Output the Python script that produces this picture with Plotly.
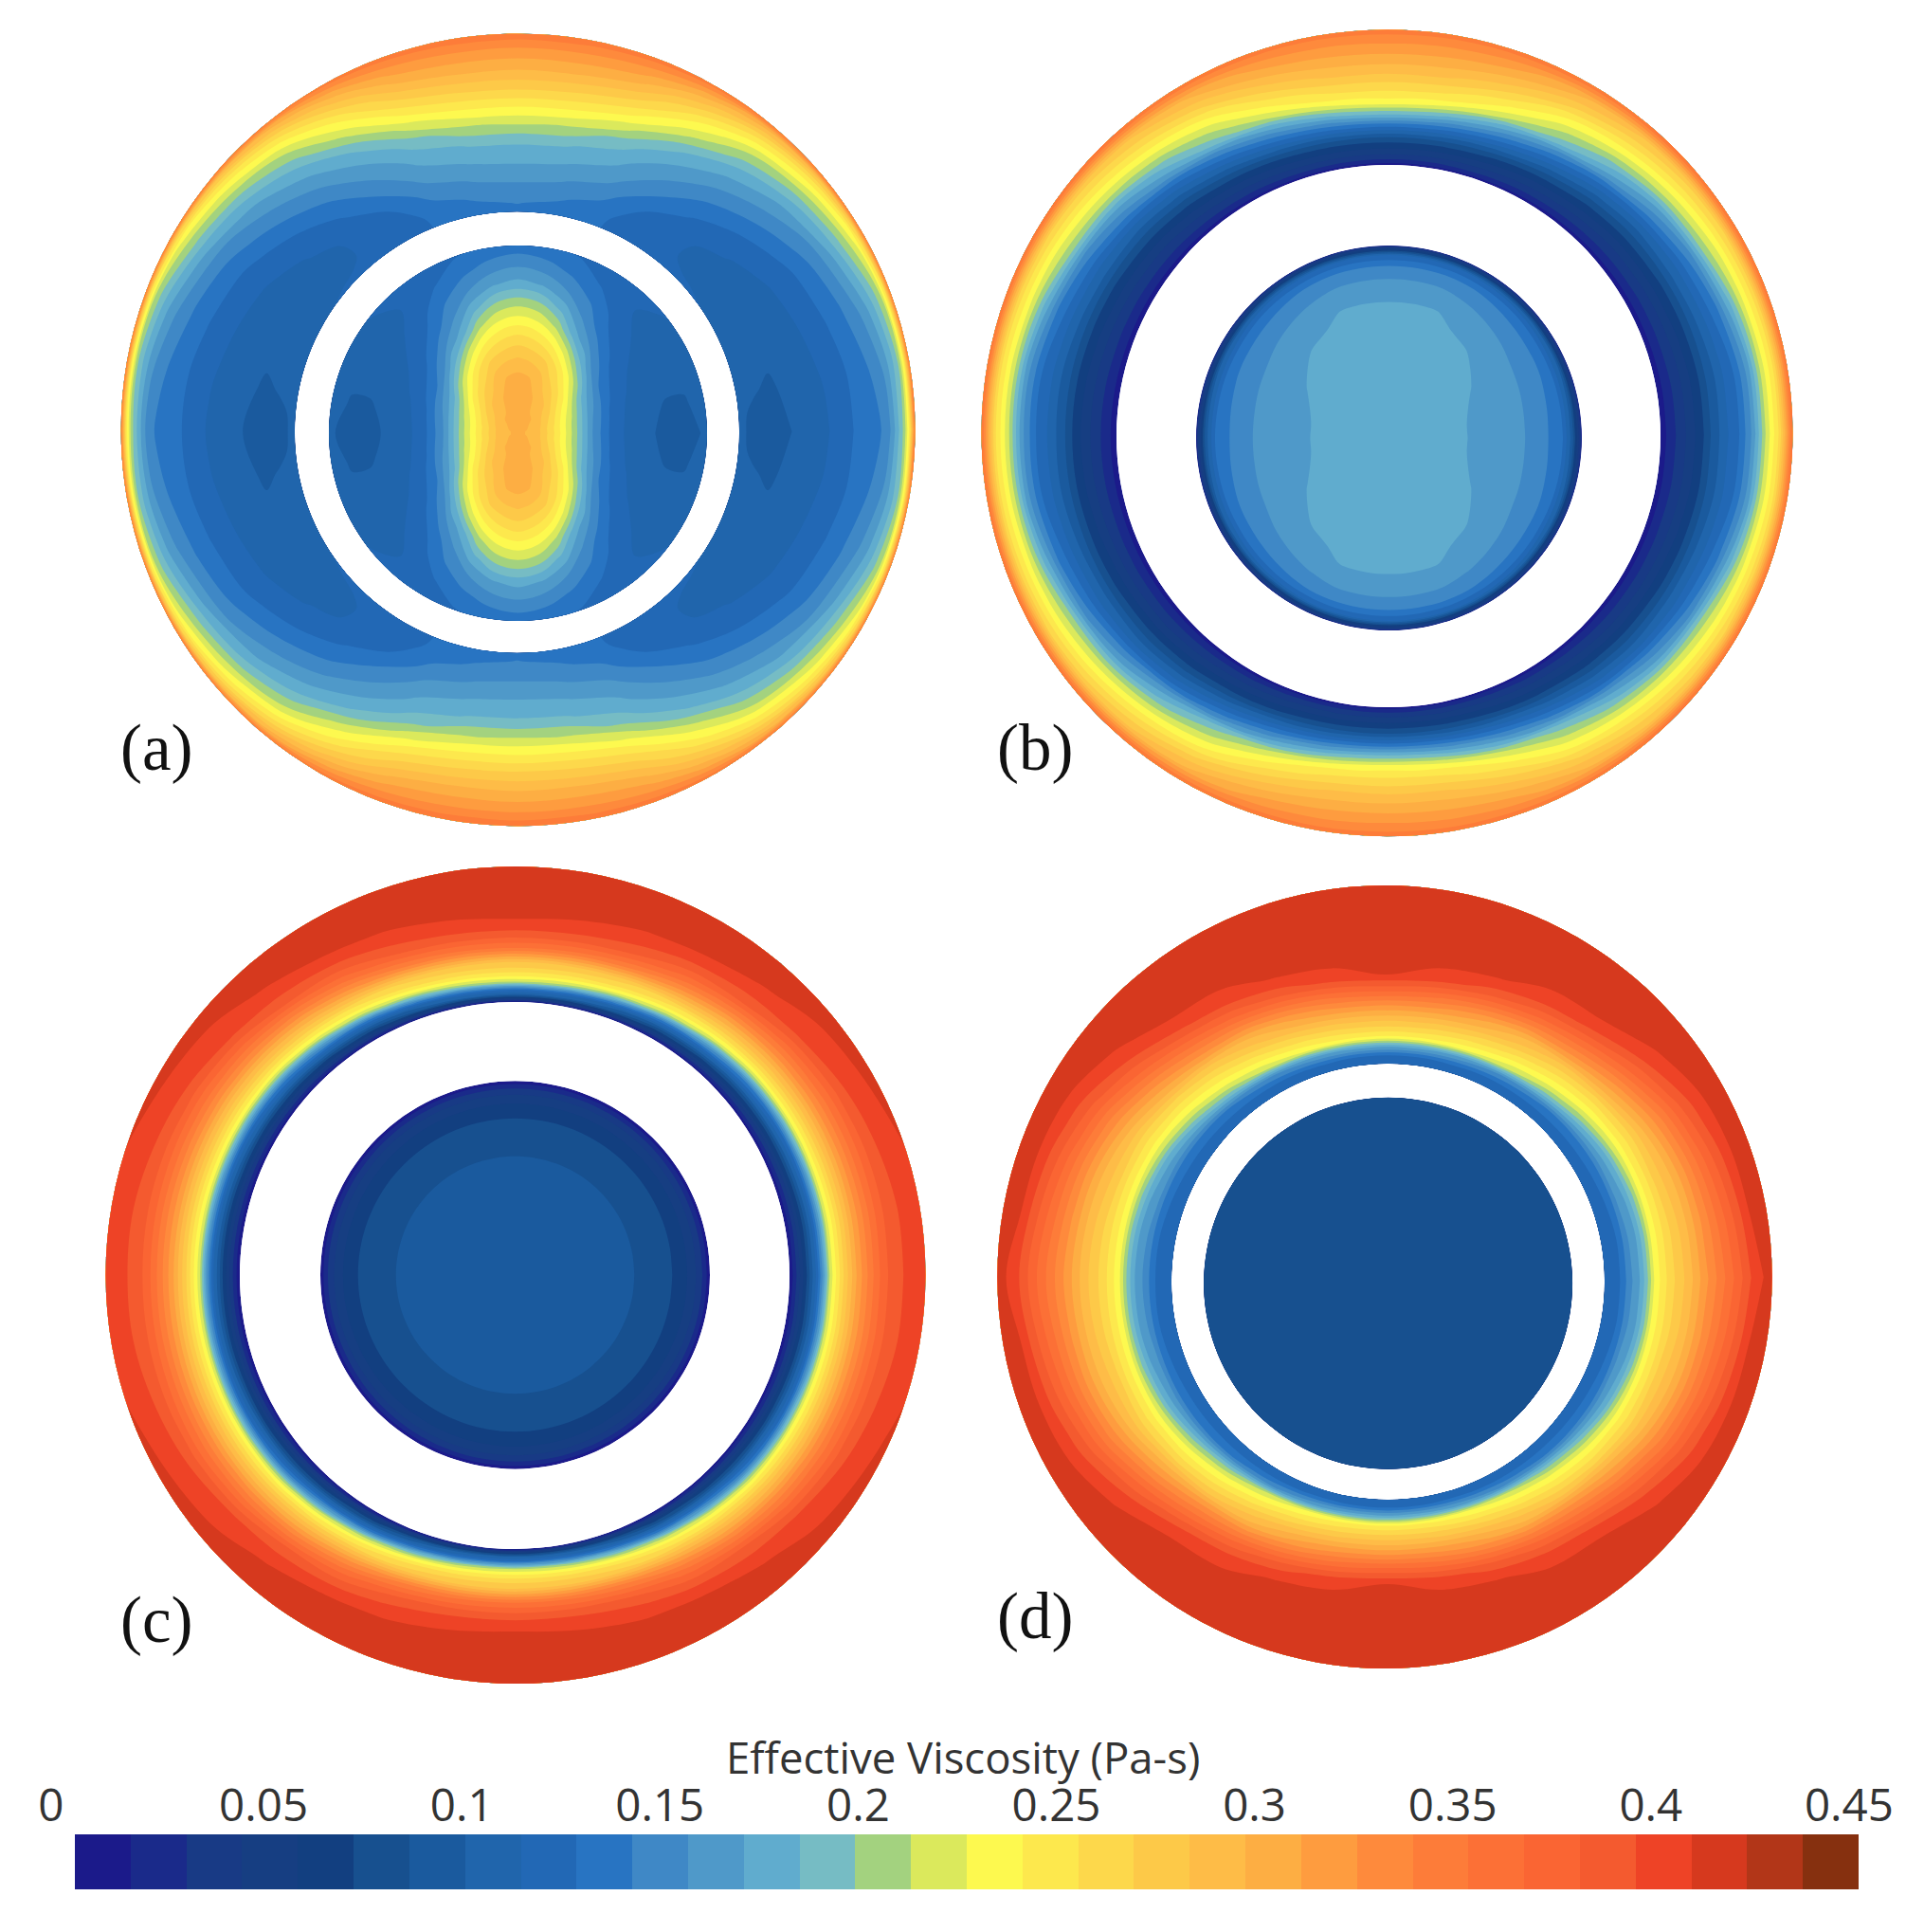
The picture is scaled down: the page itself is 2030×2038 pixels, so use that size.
import numpy as np
import plotly.graph_objects as go

# ---------- data ----------
BAR_COLORS = ["#1b1a8a", "#1a2a8a", "#183a85", "#163e82", "#123f80", "#17508f", "#1a5a9e", "#2065ac",
              "#2268b5", "#2874c2", "#3f88c6", "#4f99c9", "#60acce", "#76bcc4", "#a3d27f", "#dbe95c",
              "#fdf94f", "#fde84d", "#fdd84b", "#fdc948", "#febc47", "#fdae43", "#fe9c3f", "#fe8a3c",
              "#fd7c39", "#fc7036", "#fa6533", "#f45a2f", "#ee4326", "#d6391e", "#b23618", "#86300f"]
Z_MAX = 0.45
TICK_VALUES = [-0.0036, 0.05, 0.10, 0.15, 0.20, 0.25, 0.30, 0.35, 0.40, 0.45]
TICK_LABELS = ["0", "0.05", "0.1", "0.15", "0.2", "0.25", "0.3", "0.35", "0.4", "0.45"]
COLORBAR_TITLE = "Effective Viscosity (Pa-s)"
PANEL_NAMES = ["(a)", "(b)", "(c)", "(d)"]
ANGLES = [0, 10, 20, 30, 40, 50, 60, 70, 80, 90]

# Values are given in colour-band units of the legend (0..32); one band = 0.45/32 Pa-s.
# Each row is one angle of ANGLES, each column one radial node.
A_OUT_T = [0, .05, .1, .2, .3, .4, .5, .6, .7, .8, .85, .9, .94, .97, 1]
A_OUT = [
    [7.4, 6.9, 6.7, 6.7, 7.0, 7.5, 7.9, 8.6, 9.4, 9.9, 10.6, 12.6, 14.5, 17.5, 24.5],
    [7.5, 7.1, 7.05, 6.9, 7.2, 7.6, 8.05, 8.7, 9.5, 10.3, 11.2, 12.7, 14.2, 17.2, 24.5],
    [7.7, 7.4, 7.3, 7.2, 7.4, 7.8, 8.3, 9.05, 9.9, 11.2, 12.2, 13.5, 14.9, 17.6, 24.5],
    [7.9, 7.7, 7.6, 7.5, 7.6, 8.05, 8.6, 9.5, 10.5, 12.5, 13.7, 15.05, 16.5, 18.8, 24.5],
    [8.1, 7.9, 7.8, 7.8, 8.05, 8.6, 9.5, 10.5, 11.7, 13.6, 14.9, 16.4, 18.1, 20.05, 24.5],
    [8.3, 8.1, 8.05, 8.1, 8.8, 9.6, 10.6, 11.7, 13.1, 15.05, 16.4, 18.05, 19.8, 21.3, 24.5],
    [8.6, 8.5, 8.5, 9.05, 10.1, 11.05, 12.05, 13.3, 15.5, 17.7, 19.05, 20.5, 21.8, 23.05, 24.5],
    [9.1, 9.2, 9.5, 10.5, 11.5, 12.4, 13.6, 15.8, 18.05, 20.2, 21.2, 22.2, 23.05, 23.8, 24.6],
    [9.4, 9.7, 10.2, 11.1, 12.1, 13.1, 14.9, 17.05, 19.1, 21.05, 21.8, 22.7, 23.3, 24.05, 24.6],
    [9.6, 10.05, 10.4, 11.3, 12.3, 13.2, 15.2, 17.2, 19.3, 21.05, 21.8, 22.7, 23.3, 24.05, 24.6],
]
A_CORE_S = [0, .1, .2, .3, .4, .5, .6, .7, .8, .9, 1]
A_CORE = [
    [21.3, 20.5, 17.8, 14.5, 10.8, 8.6, 7.6, 7.1, 6.7, 6.6, 7.2],
    [21.3, 20.5, 17.8, 14.6, 11.05, 8.8, 7.7, 7.2, 6.9, 6.9, 7.5],
    [21.3, 20.7, 18.2, 15.1, 11.6, 9.2, 8.05, 7.5, 7.2, 7.2, 7.7],
    [21.3, 20.8, 18.8, 16.05, 12.5, 9.8, 8.4, 7.8, 7.5, 7.5, 7.9],
    [21.3, 20.9, 19.5, 17.4, 14.4, 11.1, 9.3, 8.4, 7.9, 7.8, 8.05],
    [21.3, 21.05, 20.2, 18.6, 16.4, 13.2, 10.8, 9.3, 8.6, 8.1, 8.1],
    [21.3, 21.1, 20.7, 19.5, 18.05, 15.5, 12.4, 10.8, 9.8, 8.9, 8.4],
    [21.3, 21.2, 21.1, 20.6, 19.3, 17.2, 14.8, 12.6, 10.9, 9.7, 8.9],
    [21.3, 21.4, 21.4, 21.1, 19.8, 18.1, 16.1, 14.05, 11.9, 10.4, 9.2],
    [21.3, 21.6, 21.6, 21.3, 20.05, 18.5, 16.5, 14.5, 12.3, 10.8, 9.4],
]
B_OUT_T = [0, .05, .1, .15, .2, .25, .3, .35, .4, .45, .5, .6, .7, .8, .9, 1]
B_OUT = [
    [.3, 1.1, 1.8, 2.4, 3.1, 3.8, 4.5, 5.4, 6.4, 7.05, 7.8, 9.05, 11.3, 15.2, 18.2, 25.2],
    [.3, 1.15, 1.85, 2.45, 3.15, 3.85, 4.55, 5.45, 6.45, 7.05, 7.85, 9.1, 11.4, 15.3, 18.25, 25.2],
    [.3, 1.25, 1.95, 2.6, 3.3, 4.05, 4.8, 5.7, 6.7, 7.4, 8.2, 9.8, 12.6, 15.8, 18.5, 25.2],
    [.3, 1.3, 2.05, 2.75, 3.5, 4.3, 5.1, 6.05, 7.05, 7.8, 8.7, 10.7, 14.2, 16.3, 18.9, 25.2],
    [.35, 1.45, 2.2, 2.9, 3.7, 4.6, 5.5, 6.4, 7.4, 8.4, 9.7, 11.9, 14.9, 17.1, 19.4, 25.2],
    [.4, 1.6, 2.5, 3.3, 4.2, 5.1, 6.1, 7.2, 8.3, 9.5, 11.3, 13.6, 15.9, 18.05, 20.2, 25.1],
    [.4, 1.8, 2.8, 3.7, 4.7, 5.9, 7.2, 8.5, 9.8, 11.3, 13.3, 15.2, 17.05, 19.3, 21.3, 24.8],
    [.5, 2.1, 3.2, 4.2, 5.3, 6.8, 8.4, 9.9, 11.5, 13.1, 15.05, 17.3, 19.1, 20.9, 22.5, 24.6],
    [.5, 2.25, 3.4, 4.5, 5.7, 7.4, 9.3, 11.2, 13.2, 15.2, 16.8, 18.6, 20.3, 21.6, 22.9, 24.5],
    [.5, 2.3, 3.5, 4.6, 5.8, 7.7, 9.7, 12.05, 14.05, 16.05, 17.2, 18.8, 20.4, 21.7, 23.05, 24.5],
]
B_CORE_S = [0, .2, .4, .5, .6, .7, .8, .85, .9, .95, 1]
B_CORE = [
    [12.7, 12.5, 12.02, 11.7, 11.4, 11.05, 10.2, 9.8, 9.1, 6.5, 1.5],
    [12.7, 12.5, 12.02, 11.75, 11.45, 11.07, 10.25, 9.85, 9.1, 6.6, 1.5],
    [12.7, 12.5, 12.07, 11.85, 11.55, 11.15, 10.35, 9.95, 9.2, 6.9, 1.5],
    [12.7, 12.5, 12.2, 11.97, 11.65, 11.25, 10.45, 10.05, 9.3, 7.1, 1.5],
    [12.7, 12.6, 12.4, 12.15, 11.85, 11.45, 10.65, 10.15, 9.55, 7.4, 1.5],
    [12.7, 12.6, 12.45, 12.3, 12.05, 11.6, 10.85, 10.3, 9.7, 7.7, 1.5],
    [12.7, 12.6, 12.5, 12.35, 12.15, 11.8, 11.05, 10.5, 9.85, 7.9, 1.5],
    [12.7, 12.6, 12.5, 12.4, 12.2, 12.05, 11.25, 10.7, 9.9, 8.1, 1.5],
    [12.7, 12.6, 12.5, 12.4, 12.2, 12.05, 11.3, 10.7, 9.9, 8.1, 1.5],
    [12.7, 12.6, 12.5, 12.4, 12.2, 12.05, 11.3, 10.7, 9.9, 8.1, 1.5],
]
C_OUT_T = [0, .03, .06, .09, .12, .15, .2, .25, .3, .4, .5, .6, .7, .8, 1]
C_OUT = [
    [.2, 1.2, 2.3, 3.5, 4.6, 6.05, 8.2, 11.5, 15.3, 19.05, 22.2, 24.6, 26.7, 27.8, 28.7],
    [.2, 1.25, 2.35, 3.55, 4.7, 6.1, 8.3, 11.7, 15.4, 19.05, 22.25, 24.6, 26.7, 27.8, 28.75],
    [.25, 1.35, 2.5, 3.75, 5.05, 6.5, 8.6, 12.1, 15.7, 19.3, 22.4, 24.8, 26.8, 27.95, 29.05],
    [.3, 1.5, 2.7, 4.05, 5.3, 7.05, 9.05, 12.8, 16.05, 19.6, 22.7, 25.1, 27.05, 28.4, 29.3],
    [.3, 1.7, 3.1, 4.5, 5.9, 7.6, 10.05, 13.9, 16.6, 20.2, 23.3, 25.8, 27.9, 28.7, 29.4],
    [.35, 2.05, 3.7, 5.2, 7.05, 8.7, 12.05, 15.6, 17.5, 21.1, 24.2, 27.05, 28.3, 29.1, 29.5],
    [.4, 2.4, 4.5, 6.05, 8.05, 9.8, 14.5, 16.9, 18.5, 22.5, 25.5, 27.5, 28.9, 29.3, 29.5],
    [.5, 3.2, 6.05, 7.6, 9.7, 12.7, 16.2, 18.2, 19.4, 24.05, 26.9, 28.3, 29.05, 29.4, 29.55],
    [.5, 3.8, 7.05, 8.6, 11.4, 14.5, 17.1, 18.8, 20.05, 24.8, 27.5, 28.8, 29.25, 29.5, 29.6],
    [.5, 4.05, 7.3, 8.8, 12.2, 15.05, 17.4, 18.9, 20.1, 25.05, 27.6, 28.95, 29.3, 29.5, 29.6],
]
C_CORE_S = [0, .2, .4, .5, .6, .7, .8, .85, .9, .95, 1]
C_CORE_PROFILE = [6.6, 6.5, 6.35, 6.2, 6.05, 5.6, 5.05, 4.6, 3.7, 2.5, .3]
D_OUT_T = [0, .05, .1, .15, .2, .25, .3, .35, .4, .5, .6, .7, .8, .9, 1]
D_OUT = [
    [8.4, 8.7, 9.05, 10.7, 11.6, 13.5, 16.2, 17.5, 18.6, 20.4, 22.6, 24.6, 26.5, 28.5, 29.5],
    [8.4, 8.7, 9.05, 10.8, 11.7, 13.6, 16.3, 17.55, 18.7, 20.6, 22.9, 25.05, 27.05, 29.05, 29.5],
    [8.4, 8.75, 9.15, 11.05, 12.15, 14.1, 16.5, 17.7, 19.1, 21.0, 23.3, 25.6, 27.6, 29.2, 29.55],
    [8.4, 8.8, 9.3, 11.3, 12.8, 15.05, 16.8, 18.05, 19.3, 21.9, 24.2, 26.6, 28.3, 29.4, 29.6],
    [8.35, 8.8, 9.6, 12.05, 14.3, 16.1, 17.5, 18.85, 20.7, 23.4, 26.05, 28.05, 29.1, 29.4, 29.6],
    [8.3, 8.85, 10.15, 13.4, 15.7, 17.1, 18.5, 19.9, 22.05, 25.05, 27.8, 29.1, 29.4, 29.5, 29.6],
    [8.2, 8.9, 10.8, 15.05, 16.8, 18.3, 19.8, 21.05, 22.8, 26.3, 28.6, 29.2, 29.45, 29.5, 29.6],
    [8.2, 9.05, 11.7, 16.1, 17.8, 19.4, 21.05, 22.4, 24.05, 27.5, 29.1, 29.3, 29.4, 29.55, 29.6],
    [8.2, 9.05, 12.3, 16.7, 18.5, 20.1, 21.8, 23.5, 25.2, 28.5, 29.3, 29.45, 29.55, 29.6, 29.6],
    [8.2, 9.05, 12.4, 16.8, 18.7, 20.3, 22.05, 23.8, 25.8, 29.05, 29.4, 29.5, 29.6, 29.6, 29.6],
]
D_CORE_S = [0, .5, 1]
D_CORE_PROFILE = [5.5, 5.5, 5.5]

# ---------- drawing ----------
N = len(BAR_COLORS)
STEP = Z_MAX / N
colorscale = []
for i, c in enumerate(BAR_COLORS):
    colorscale += [[i / N, c], [(i + 1) / N, c]]
Q = len(ANGLES) - 1
COL = list(range(Q + 1)) + list(range(Q - 1, -1, -1)) + list(range(1, Q + 1)) + list(range(Q - 1, -1, -1))
DEG = ANGLES + [180 - a for a in ANGLES[-2::-1]] + [180 + a for a in ANGLES[1:]] + [360 - a for a in ANGLES[-2::-1]]
THETA = np.radians(DEG)


def field(carpet_id, rows, table, inner, outer):
    """rows: radial nodes; inner/outer: (cx, cy, rx, ry) of the two bounding circles, page pixels."""
    t = np.array(rows)[:, None]
    ix, iy, irx, iry = inner
    ox, oy, orx, ory = outer
    x = (ix + irx * np.cos(THETA)) * (1 - t) + (ox + orx * np.cos(THETA)) * t
    y = (iy - iry * np.sin(THETA)) * (1 - t) + (oy - ory * np.sin(THETA)) * t
    z = (np.array(table).T[:, COL] + 0.0037) * STEP
    hidden = dict(showgrid=False, showline=False, showticklabels="none", startline=False, endline=False,
                  minorgridcount=0, gridwidth=0, color="rgba(0,0,0,0)", smoothing=1)
    fig.add_trace(go.Carpet(carpet=carpet_id, a=DEG, b=list(rows), x=x, y=y,
                            aaxis=hidden, baxis=hidden, xaxis="x", yaxis="y"))
    fig.add_trace(go.Contourcarpet(carpet=carpet_id, a=DEG, b=list(rows), z=z,
                                   colorscale=colorscale, zmin=0, zmax=Z_MAX, showscale=False,
                                   autocontour=False, line=dict(width=0),
                                   contours=dict(start=STEP, end=Z_MAX - STEP, size=STEP, coloring="fill")))


fig = go.Figure()
GEOM = {
    "a": dict(out=(546.6, 453.4, 419, 418), hole=(545.5, 456, 234.5, 232.7), core=(546.5, 457, 199.5, 198)),
    "b": dict(out=(1463.5, 456.7, 428, 425.5), hole=(1465, 460, 287, 286), core=(1465.5, 462, 203.5, 203)),
    "c": dict(out=(544, 1345, 432.5, 431), hole=(543, 1345.5, 290, 288.5), core=(543.5, 1345, 205.5, 204.7)),
    "d": dict(out=(1461, 1347, 408.7, 413), hole=(1464.5, 1352, 228.5, 230), core=(1464.6, 1353.7, 194.5, 196)),
}
for key, rows, table, crows, ctable in [
    ("a", A_OUT_T, A_OUT, A_CORE_S, A_CORE),
    ("b", B_OUT_T, B_OUT, B_CORE_S, B_CORE),
    ("c", C_OUT_T, C_OUT, C_CORE_S, [C_CORE_PROFILE] * len(ANGLES)),
    ("d", D_OUT_T, D_OUT, D_CORE_S, [D_CORE_PROFILE] * len(ANGLES)),
]:
    g = GEOM[key]
    field(key + "_out", rows, table, g["hole"], g["out"])
    field(key + "_core", crows, ctable, g["core"][:2] + (0, 0), g["core"])

fig.add_trace(go.Heatmap(z=[[(i + 0.5) * STEP for i in range(N)]], x0=STEP / 2, dx=STEP, y0=0.5, dy=1,
                         colorscale=colorscale, zmin=0, zmax=Z_MAX, showscale=False,
                         xaxis="x2", yaxis="y2", hoverinfo="skip"))

label_xy = [(165, 789), (1092, 789), (165, 1709), (1092, 1705)]
annotations = [dict(text=name, x=x, y=y, xref="x", yref="y", showarrow=False,
                    font=dict(family="Liberation Serif", size=69, color="#111111"))
               for name, (x, y) in zip(PANEL_NAMES, label_xy)]
annotations.append(dict(text=COLORBAR_TITLE, x=1016, y=1853, xref="x", yref="y", showarrow=False,
                        font=dict(family="Open Sans", size=45.5, color="#333333")))

PX_PER_UNIT = 4182.0
fig.update_layout(
    width=2030, height=2038, margin=dict(l=0, r=0, t=0, b=0, pad=0),
    paper_bgcolor="white", plot_bgcolor="rgba(0,0,0,0)", showlegend=False,
    annotations=annotations,
    xaxis=dict(range=[0, 2030], visible=False, domain=[0, 1], fixedrange=True),
    yaxis=dict(range=[2038, 0], visible=False, domain=[0, 1], fixedrange=True),
    xaxis2=dict(range=[-79 / PX_PER_UNIT, (2030 - 79) / PX_PER_UNIT], domain=[0, 1], anchor="free",
                position=(2038 - 1930) / 2038, side="top",
                tickmode="array", tickvals=TICK_VALUES, ticktext=TICK_LABELS, showgrid=False, zeroline=False,
                showline=False, ticks="",
                ticklabelshift=-10, tickfont=dict(family="Open Sans", size=47.5, color="#333333")),
    yaxis2=dict(range=[0, 1], domain=[1 - 1993 / 2038, 1 - 1935 / 2038], anchor="x2", visible=False),
)
fig.write_html("out.html", config=dict(displayModeBar=False),
               post_script="document.body.style.margin='0';document.documentElement.style.overflow='hidden';")
